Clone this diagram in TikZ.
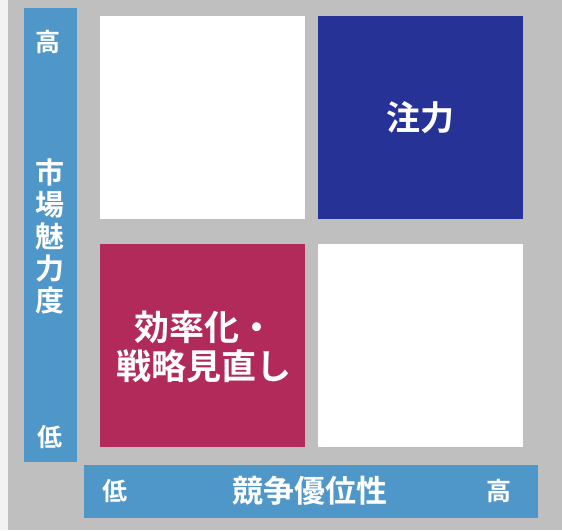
\documentclass[tikz,border=0pt]{standalone}
\usepackage{fontspec}
\newfontfamily\jpb{Noto Sans CJK JP Bold}
\definecolor{bggray}{HTML}{BFBFBF}
\definecolor{strip}{HTML}{F2F2F2}
\definecolor{axisblue}{HTML}{4F96C9}
\definecolor{navy}{HTML}{263296}
\definecolor{crimson}{HTML}{B22A59}
\tikzset{
  cell/.style={draw=none, inner sep=0pt, minimum width=205pt, minimum height=203pt, anchor=north west},
  bar/.style={draw=none, fill=axisblue, inner sep=0pt, anchor=north west},
  lab/.style={text=white, inner sep=0pt, font=\jpb\fontsize{25}{27}\selectfont},
  biglab/.style={text=white, inner sep=0pt, align=center},
}
\begin{document}
\begin{tikzpicture}[x=1pt,y=-1pt]
\fill[bggray] (0,0) rectangle (562,530);
\fill[strip] (0,0) rectangle (8,530);
\useasboundingbox (0,0) rectangle (562,530);
% axis bars
\node[bar, minimum width=53pt, minimum height=454pt] (vbar) at (24,8) {};
\node[bar, minimum width=454pt, minimum height=53pt] (hbar) at (84,465) {};
% quadrants
\node[cell, fill=white] (tl) at (100,16) {};
\node[cell, fill=navy] (tr) at (318,16) {};
\node[cell, fill=crimson] (bl) at (100,244) {};
\node[cell, fill=white] (br) at (318,244) {};
% labels
\node[lab] (vhigh) at (48,42) {高};
\node[lab] (vlow) at (50,437) {低};
\node[biglab, font=\jpb\fontsize{29}{32}\selectfont] (vtitle) at (50,236) {市\\場\\魅\\力\\度};
\node[lab] (hlow) at (115,491) {低};
\node[lab] (hhigh) at (499,491) {高};
\node[biglab, font=\jpb\fontsize{31}{32}\selectfont] (htitle) at (310,491) {競争優位性};
\node[biglab, font=\jpb\fontsize{34}{38}\selectfont] (focus) at (420,118) {注力};
\node[biglab, font=\jpb\fontsize{35}{39}\selectfont] (review) at (204,347) {効率化・\\戦略見直し};
\end{tikzpicture}
\end{document}
